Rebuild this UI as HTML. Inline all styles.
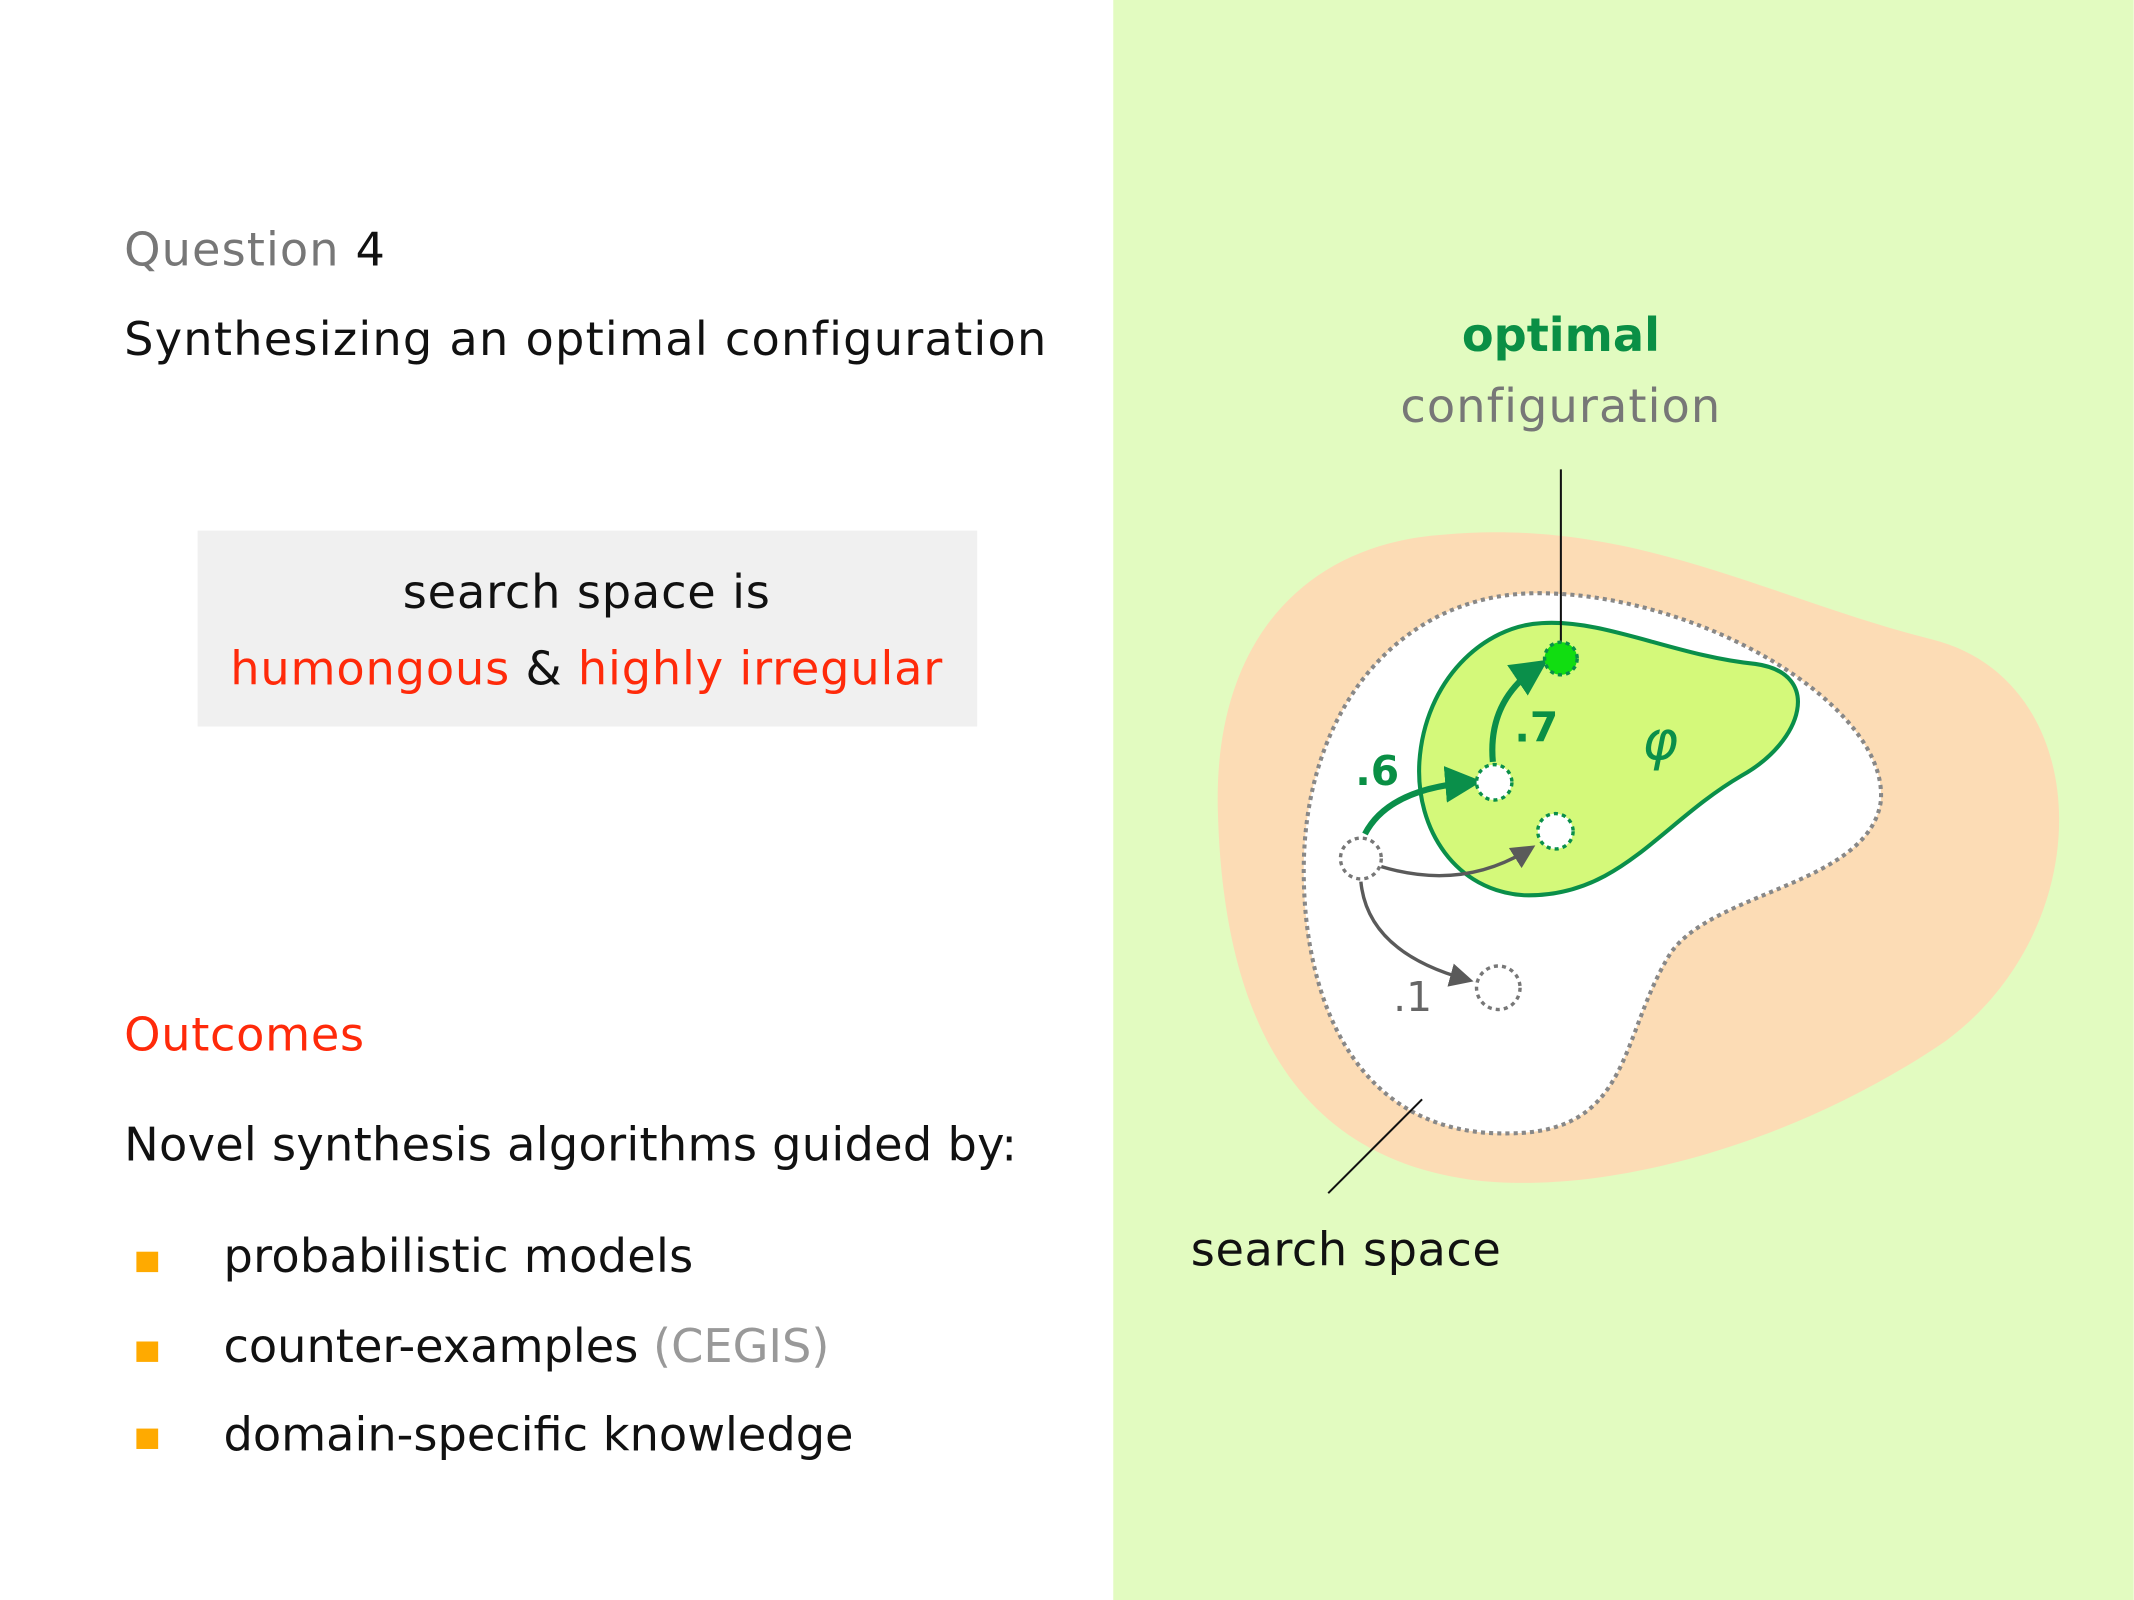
<!DOCTYPE html>
<html><head><meta charset="utf-8"><style>
html,body{margin:0;padding:0;background:#fff;}
svg{display:block;}
text{font-family:"DejaVu Sans","Liberation Sans",sans-serif;}
</style></head><body>
<svg width="2134" height="1600" viewBox="0 0 1568 1176" xmlns="http://www.w3.org/2000/svg">
<defs>
<marker id="ag" markerWidth="6" markerHeight="6" refX="4" refY="3" orient="auto" markerUnits="strokeWidth"><path d="M0,0 L6,3 L0,6 Z" fill="#0a8f4a"/></marker>
<marker id="ay" markerWidth="7" markerHeight="7" refX="5" refY="3.5" orient="auto" markerUnits="strokeWidth"><path d="M0,0 L7,3.5 L0,7 Z" fill="#5a5a5a"/></marker>
</defs>
<rect x="0" y="0" width="1568" height="1176" fill="#fff"/>
<rect x="818" y="0" width="750" height="1176" fill="#e2fbc0"/>

<text x="91" y="195" font-size="34" fill="#777" letter-spacing="0.8">Question <tspan fill="#111">4</tspan></text>
<text x="91" y="261" font-size="34" fill="#111" letter-spacing="0.9">Synthesizing an optimal configuration</text>
<rect x="145" y="390" width="573" height="144" fill="#f0f0f0"/>
<text x="431" y="447" font-size="34" fill="#111" text-anchor="middle" letter-spacing="0.6">search space is</text>
<text x="431" y="503" font-size="34" fill="#ff2a0a" text-anchor="middle" letter-spacing="0.6">humongous <tspan fill="#111">&amp;</tspan> highly irregular</text>
<text x="91" y="772" font-size="34" fill="#ff2a0a" letter-spacing="0.5">Outcomes</text>
<text x="91" y="853" font-size="34" fill="#111" letter-spacing="0.2">Novel synthesis algorithms guided by:</text>
<rect x="100" y="920" width="16" height="15" fill="#ffaa00"/>
<rect x="100" y="986" width="16" height="15" fill="#ffaa00"/>
<rect x="100" y="1050" width="16" height="15" fill="#ffaa00"/>
<text x="164" y="935" font-size="34" fill="#111" letter-spacing="0.2">probabilistic models</text>
<text x="164" y="1001" font-size="34" fill="#111">counter-examples <tspan fill="#999">(CEGIS)</tspan></text>
<text x="164" y="1066" font-size="34" fill="#111">domain-specific knowledge</text>

<path d="M1060 393 C1200 380,1300 440,1420 470 C1540 500,1545 680,1430 765 C1320 840,1180 880,1080 867 C960 850,900 760,895 600 C890 470,960 400,1060 393 Z" fill="#fcdcb5"/>
<path d="M1130 436 C1250 436,1390 520,1382 590 C1372 650,1260 655,1228 700 C1190 760,1200 832,1110 833 C1000 836,958 740,958 640 C958 520,1030 436,1130 436 Z" fill="#fff" stroke="#888" stroke-width="3" stroke-dasharray="3,3"/>
<path d="M1133 458 C1180 455,1230 482,1290 488 C1340 495,1325 545,1280 570 C1220 605,1190 660,1120 658 C1070 655,1040 610,1043 560 C1047 500,1090 460,1133 458 Z" fill="#d4f97a" stroke="#0a8f4a" stroke-width="3"/>
<text x="1220" y="558" font-size="40" fill="#0a8f4a" font-style="italic" font-family="Liberation Serif, serif" text-anchor="middle">φ</text>

<line x1="1147" y1="345" x2="1147" y2="478" stroke="#111" stroke-width="1.5"/>
<text x="1147" y="258" font-size="34" fill="#0a8f45" font-weight="bold" text-anchor="middle">optimal</text>
<text x="1147" y="310" font-size="34" fill="#777" text-anchor="middle" letter-spacing="0.8">configuration</text>

<path d="M1003 613 Q1020 580 1080 575" fill="none" stroke="#0a8f4a" stroke-width="4.5" marker-end="url(#ag)"/>
<path d="M1097 560 Q1093 515 1130 490" fill="none" stroke="#0a8f4a" stroke-width="4.5" marker-end="url(#ag)"/>
<path d="M1015 637 Q1075 655 1124 624" fill="none" stroke="#5a5a5a" stroke-width="2.5" marker-end="url(#ay)"/>
<path d="M1000 648 Q1005 700 1078 720" fill="none" stroke="#5a5a5a" stroke-width="2.5" marker-end="url(#ay)"/>

<circle cx="1000" cy="631" r="15" fill="#fff" stroke="#777" stroke-width="2.5" stroke-dasharray="3,3"/>
<circle cx="1098" cy="575" r="13" fill="#fff" stroke="#0a8f4a" stroke-width="2.5" stroke-dasharray="3,3"/>
<circle cx="1143" cy="611" r="13" fill="#fff" stroke="#0a8f4a" stroke-width="2.5" stroke-dasharray="3,3"/>
<circle cx="1147" cy="484" r="12" fill="#11dd11" stroke="#0a8f4a" stroke-width="2.5" stroke-dasharray="3,3"/>
<circle cx="1101" cy="726" r="16" fill="#fff" stroke="#777" stroke-width="2.5" stroke-dasharray="3,3"/>

<text x="1012" y="577" font-size="30" fill="#0a8f45" font-weight="bold" text-anchor="middle">.6</text>
<text x="1129" y="545" font-size="30" fill="#0a8f45" font-weight="bold" text-anchor="middle">.7</text>
<text x="1038" y="743" font-size="30" fill="#666" text-anchor="middle">.1</text>

<line x1="976" y1="877" x2="1045" y2="808" stroke="#111" stroke-width="1.5"/>
<text x="875" y="930" font-size="34" fill="#111" letter-spacing="0.4">search space</text>
</svg>
</body></html>
